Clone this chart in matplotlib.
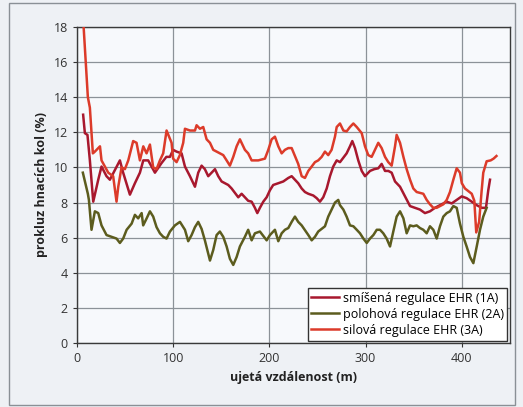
import matplotlib
matplotlib.use("Agg")
import matplotlib.pyplot as plt
from matplotlib.patches import Rectangle

# ---- data ----
x_1A = [6.5, 8.3, 11, 13.5, 17, 22.2, 25.6, 30.8, 34.3, 39.5, 44.7, 48.1, 55.1, 60.3, 65.5, 69, 74.1, 81.1, 88, 93,
        96.7, 100, 103.6, 108.8, 112.3, 117.5, 122.7, 126.1, 129.6, 133, 136.5, 140, 143.5, 146.9, 150.4, 157.3, 160.8,
        167.7, 171.2, 178, 181.6, 185, 187.5, 190.2, 193.7, 197.2, 200.6, 204, 209.3, 214.5, 219.7, 223.2, 230, 233.6,
        237, 240.5, 245.7, 249.2, 252.6, 256, 259.6, 263, 266.4, 270, 273.4, 280.3, 283.8, 286.2, 289, 292.4, 296,
        299.4, 304.6, 309, 313.2, 316.7, 320.2, 323.6, 327.1, 330.6, 335.8, 341, 346.2, 351.3, 356.5, 361.7, 366.9,
        372.1, 377.3, 384.3, 389.5, 394.7, 399.9, 405, 410.3, 415.5, 420.7, 425.1, 427.5, 429.3]
y_1A = [13.0, 11.95, 11.85, 10.4, 8.05, 9.3, 10.05, 9.5, 9.3, 9.85, 10.4, 9.7, 8.45, 9.1, 9.7, 10.4, 10.4, 9.7, 10.25, 10.6,
        10.6, 11.0, 10.9, 10.8, 10.05, 9.5, 8.9, 9.7, 10.1, 9.9, 9.5, 9.7, 9.9, 9.5, 9.2, 9.0, 8.8,
        8.3, 8.5, 8.1, 8.05, 7.7, 7.4, 7.7, 8.05, 8.3, 8.7, 9.0, 9.1, 9.2, 9.4, 9.5, 9.1, 8.8,
        8.6, 8.5, 8.4, 8.25, 8.05, 8.3, 8.8, 9.5, 10.05, 10.4, 10.3, 10.8, 11.2, 11.5, 11.1, 10.4, 9.8,
        9.5, 9.8, 9.9, 9.95, 10.2, 9.8, 9.8, 9.7, 9.2, 8.9, 8.35, 7.8, 7.7, 7.6, 7.4, 7.5,
        7.7, 7.85, 8.05, 7.95, 8.15, 8.35, 8.25, 8.05, 7.85, 7.7, 7.7, 8.7, 9.3]

x_2A = [6.2, 11.4, 12.5, 15.2, 18.7, 22.2, 25.6, 30.8, 36, 41.2, 44.7, 48.1, 51.7, 56.9, 60.3, 63.7, 67.3, 68.9, 72.5,
        75.9, 79.3, 82.8, 86.3, 89.7, 93.2, 96.7, 101.9, 107.1, 112.3, 115.7, 119.2, 122.7, 126.1, 129.6, 133, 138.3,
        141.7, 145.2, 148.6, 152.1, 155.6, 159, 162.5, 166, 169.4, 174.6, 178, 181.6, 185, 190.2, 197.2, 200.6, 205.8,
        209.3, 212.8, 216.2, 219.7, 223.2, 226.6, 230, 233.6, 240.5, 244, 247.4, 250.8, 257.8, 261.2, 264.7, 268.2,
        271.6, 273.4, 276.9, 280.3, 283.8, 287.3, 290.8, 294.2, 297.7, 301.2, 304.6, 308.1, 311.6, 315, 318.4, 321.9,
        325.4, 328.8, 332.3, 335.8, 339.3, 342.7, 346.2, 349.6, 353.1, 356.5, 360, 363.5, 366.9, 370.4, 373.9, 377.3,
        380.8, 384.3, 387.7, 391.2, 394.7, 398.1, 401.6, 405, 408.5, 412, 415.5, 418.9, 422.3, 425.8]
y_2A = [9.7, 8.5, 8.15, 6.45, 7.5, 7.4, 6.7, 6.15, 6.05, 5.95, 5.7, 5.95, 6.45, 6.8, 7.3, 7.1, 7.4, 6.7, 7.1,
        7.5, 7.2, 6.6, 6.25, 6.05, 5.95, 6.35, 6.7, 6.9, 6.45, 5.8, 6.15, 6.6, 6.9, 6.5, 5.85, 4.7,
        5.3, 6.15, 6.35, 6.05, 5.5, 4.8, 4.45, 4.9, 5.5, 6.05, 6.45, 5.85, 6.25, 6.35, 5.85, 6.15, 6.45,
        5.8, 6.25, 6.45, 6.55, 6.9, 7.2, 6.9, 6.7, 6.15, 5.85, 6.05, 6.35, 6.65, 7.2, 7.6, 8.0,
        8.15, 7.85, 7.6, 7.2, 6.7, 6.65, 6.45, 6.25, 5.95, 5.7, 5.95, 6.15, 6.45, 6.45, 6.25, 5.95,
        5.5, 6.35, 7.2, 7.5, 7.1, 6.25, 6.7, 6.65, 6.7, 6.55, 6.45, 6.25, 6.65, 6.45, 5.95, 6.65,
        7.2, 7.4, 7.5, 7.8, 7.7, 6.8, 6.05, 5.5, 4.9, 4.55, 5.5, 6.45, 7.2, 7.7]

x_3A = [7, 11.4, 13.5, 16.6, 18.7, 24, 25.6, 32.6, 37.7, 41.2, 43, 46.4, 49.9, 53.4, 58.5, 62, 65.5, 69, 72.4, 75.9,
        79.3, 82.8, 86.3, 89.7, 93.2, 98.4, 100, 103.6, 107, 110.5, 112.3, 117.5, 122.7, 124.4, 127.9, 131.3, 134.8,
        138.3, 141.7, 145.2, 152.1, 155.6, 159, 162.5, 166, 169.4, 174.6, 178, 181.6, 188.5, 195.4, 198.9, 202.4,
        205.8, 209.3, 212.8, 216.2, 219.7, 223.2, 230, 233.6, 237, 240.5, 244, 247.4, 250.8, 254.4, 257.8, 261.2,
        264.7, 268.2, 270, 273.4, 276.9, 280.3, 283.8, 287.3, 290.8, 296, 299.4, 302.8, 306.3, 313.2, 316.7, 320.2,
        323.6, 327.1, 330.6, 332.3, 335.8, 339.3, 342.7, 346.2, 349.6, 353.1, 360, 363.5, 366.9, 370.4, 373.9, 380.8,
        384.3, 387.7, 391.2, 394.7, 398.1, 400, 403.3, 410.3, 413, 415, 418, 420.5, 422.3, 425.8, 430, 433, 436]
y_3A = [18.0, 14.0, 13.4, 10.8, 10.9, 11.2, 10.4, 9.7, 9.5, 8.05, 8.9, 10.0, 9.9, 10.4, 11.5, 11.4, 10.4, 11.2, 10.8, 11.3,
        10.0, 9.9, 10.4, 10.8, 12.1, 11.4, 10.5, 10.3, 10.7, 11.4, 12.2, 12.1, 12.1, 12.4, 12.2, 12.3, 11.6,
        11.4, 11.0, 10.9, 10.7, 10.4, 10.1, 10.6, 11.2, 11.6, 11.0, 10.8, 10.4, 10.4, 10.5, 11.0, 11.6,
        11.75, 11.2, 10.8, 11.0, 11.1, 11.1, 10.2, 9.5, 9.4, 9.8, 10.05, 10.3, 10.4, 10.6, 10.9, 10.7,
        11.0, 11.75, 12.3, 12.5, 12.1, 12.05, 12.3, 12.5, 12.3, 11.95, 11.2, 10.7, 10.6, 11.4, 11.1, 10.6,
        10.3, 10.1, 11.2, 11.85, 11.4, 10.6, 9.9, 9.3, 8.8, 8.6, 8.5, 8.15, 7.9, 7.7, 7.7, 7.9,
        8.15, 8.6, 9.3, 9.95, 9.7, 9.1, 8.8, 8.5, 8.1, 6.3, 6.9, 8.6, 9.7, 10.35, 10.4, 10.5, 10.65]

labels = ["smíšená regulace EHR (1A)", "polohová regulace EHR (2A)", "silová regulace EHR (3A)"]
x_ticks = [0, 100, 200, 300, 400]
y_ticks = [0, 2, 4, 6, 8, 10, 12, 14, 16, 18]

plt.rcParams['font.family'] = ['Open Sans', 'DejaVu Sans']

fig = plt.figure(figsize=(5.23, 4.07), dpi=100, facecolor='#eef1f5')
ax = fig.add_axes([0.147, 0.157, 0.828, 0.777], facecolor='#f7f9fc')

fig.patches.append(Rectangle((0.018, 0.005), 0.966, 0.988, transform=fig.transFigure,
                             fill=False, edgecolor='#8a9096', linewidth=1.0))

ax.plot(x_1A, y_1A, color='#a8182e', lw=1.8, label=labels[0], zorder=3)
ax.plot(x_2A, y_2A, color='#5c5c1e', lw=1.8, label=labels[1], zorder=3)
ax.plot(x_3A, y_3A, color='#dc3b2a', lw=1.8, label=labels[2], zorder=3)

ax.set_xlim(0, 450)
ax.set_ylim(0, 18)
ax.set_xticks(x_ticks)
ax.set_yticks(y_ticks)
ax.grid(True, color='#8c9298', linewidth=0.9)
ax.set_axisbelow(True)
for s in ax.spines.values():
    s.set_color('#3a3a3a')
    s.set_linewidth(1.0)
ax.tick_params(labelsize=9, colors='#333333', length=3)

ax.set_xlabel("ujetá vzdálenost (m)", fontsize=9, fontweight='bold', color='#222222')
ax.set_ylabel("prokluz hnacích kol (%)", fontsize=9, fontweight='bold', color='#222222')

leg = ax.legend(loc='lower right', fontsize=9, frameon=True, fancybox=False,
                edgecolor='#333333', facecolor='white', framealpha=1,
                handlelength=2.2, borderaxespad=0.2, labelspacing=0.25,
                handletextpad=0.3, borderpad=0.3)
leg.get_frame().set_linewidth(1.0)

fig.savefig("out.png", dpi=100, facecolor=fig.get_facecolor())
